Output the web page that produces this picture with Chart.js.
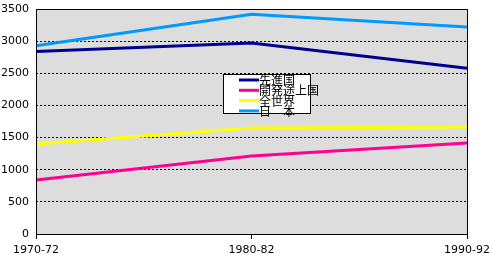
<!DOCTYPE html>
<html>
<head>
<meta charset="utf-8">
<script src="https://cdn.jsdelivr.net/npm/chart.js@4/dist/chart.umd.min.js"></script>
<style>
html,body{margin:0;padding:0;background:#fff;}
#wrap{position:relative;width:492px;height:260px;}
</style>
</head>
<body>
<div id="wrap"><canvas id="c" width="492" height="260"></canvas></div>
<script>
const categories = ["1970-72", "1980-82", "1990-92"];
const seriesNames = ["先進国", "開発途上国", "全世界", "日　本"];
const developed = [2840, 2970, 2580];
const developing = [840, 1215, 1415];
const world = [1400, 1650, 1665];
const japan = [2930, 3420, 3220];
const yTicks = [0, 500, 1000, 1500, 2000, 2500, 3000, 3500];
const colors = ["#000090", "#FF0090", "#FFFF00", "#0099FF"];

const allSeries = [developed, developing, world, japan];

const framePlugin = {
  id: 'frame',
  beforeDraw(chart) {
    const a = chart.chartArea, ctx = chart.ctx;
    ctx.save();
    ctx.fillStyle = '#DDDDDD';
    ctx.fillRect(a.left, a.top, a.right - a.left, a.bottom - a.top);
    ctx.restore();
  },
  afterDraw(chart) {
    const a = chart.chartArea, ctx = chart.ctx;
    ctx.save();
    ctx.strokeStyle = '#000';
    ctx.lineWidth = 1;
    ctx.strokeRect(Math.round(a.left) + 0.5, Math.round(a.top) + 0.5, Math.round(a.right - a.left), Math.round(a.bottom - a.top));
    // legend
    const lx = 223, ly = 74, lw = 87, lh = 39;
    ctx.fillStyle = '#fff';
    ctx.fillRect(lx, ly, lw, lh);
    ctx.strokeRect(lx + 0.5, ly + 0.5, lw, lh);
    ctx.font = '12px "Noto Sans CJK JP"';
    ctx.textBaseline = 'middle';
    ctx.textAlign = 'left';
    chart.data.datasets.forEach((ds, i) => {
      const y = ly + 6 + i * 10.3;
      ctx.strokeStyle = ds.borderColor;
      ctx.lineWidth = 3;
      ctx.beginPath();
      ctx.moveTo(lx + 16, y);
      ctx.lineTo(lx + 36, y);
      ctx.stroke();
      ctx.fillStyle = '#000';
      ctx.fillText(ds.label, lx + 36, y + 0.5);
    });
    ctx.restore();
  }
};

new Chart(document.getElementById('c'), {
  type: 'line',
  data: {
    labels: categories,
    datasets: allSeries.map((d, i) => ({
      label: seriesNames[i],
      data: d,
      borderColor: colors[i],
      backgroundColor: colors[i],
      borderWidth: 3,
      pointRadius: 0,
      tension: 0,
      fill: false
    }))
  },
  options: {
    responsive: false,
    animation: false,
    events: [],
    layout: { padding: { left: 0, right: 25, top: 9, bottom: 0 } },
    plugins: { legend: { display: false }, tooltip: { enabled: false } },
    scales: {
      x: {
        offset: false,
        grid: { display: true, drawOnChartArea: false, drawTicks: true, tickLength: 5, color: '#000' },
        border: { display: false },
        ticks: { color: '#000', font: { family: 'DejaVu Sans', size: 11 }, maxRotation: 0, autoSkip: false, padding: 5 },
        afterFit(s) { s.height = 26; s.paddingLeft = 0; s.paddingRight = 0; }
      },
      y: {
        min: 0, max: 3500,
        afterBuildTicks(s) { s.ticks = yTicks.map(v => ({ value: v })); },
        grid: {
          drawTicks: false,
          color: (c) => (c.tick && (c.tick.value === 0 || c.tick.value === 3500)) ? 'rgba(0,0,0,0)' : '#000',
          lineWidth: 1
        },
        border: { display: false, dash: [2, 2] },
        ticks: { color: '#000', font: { family: 'DejaVu Sans', size: 11 }, padding: 7, callback: (v) => String(v) },
        afterFit(s) { s.width = 36; s.paddingTop = 0; s.paddingBottom = 0; }
      }
    }
  },
  plugins: [framePlugin]
});
</script>
</body>
</html>
